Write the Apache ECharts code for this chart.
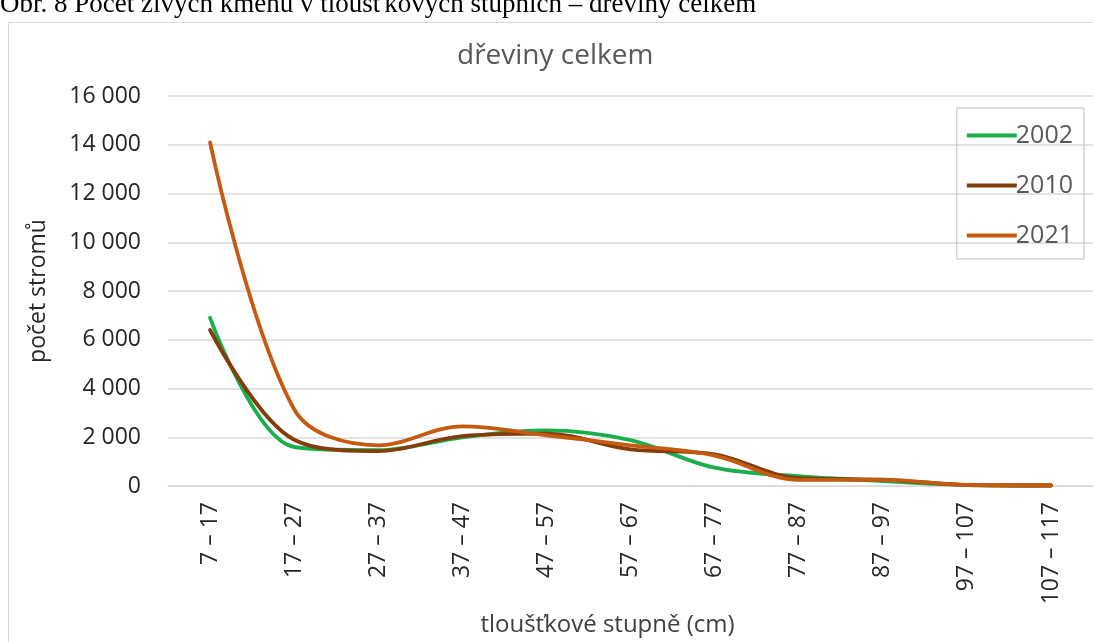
<!DOCTYPE html>
<html><head><meta charset="utf-8">
<script src="https://cdn.jsdelivr.net/npm/echarts@6/dist/echarts.min.js"></script>
<style>html,body{margin:0;padding:0;background:#fff}#c{width:1093px;height:642px}</style>
</head><body><div id="c"></div>
<script>
const categories = ['7 – 17','17 – 27','27 – 37','37 – 47','47 – 57','57 – 67','67 – 77','77 – 87','87 – 97','97 – 107','107 – 117'];
const s2002 = [6900, 1600, 1470, 2000, 2280, 1880, 750, 400, 200, 40, 20];
const s2010 = [6400, 1900, 1430, 2050, 2150, 1500, 1300, 320, 260, 40, 20];
const s2021 = [14100, 3150, 1670, 2450, 2080, 1670, 1250, 250, 250, 50, 30];
const seriesNames = ['2002','2010','2021'];
const colors = ['#19b04b','#843c0c','#c55a11'];
const FONT = '"Open Sans"';

const chart = echarts.init(document.getElementById('c'), null, {renderer:'canvas'});
function mk(name, data, color){
  return {name, type:'line', data, smooth:0.35, symbol:'none',
    lineStyle:{width:3.8, color, cap:'round'}, itemStyle:{color}};
}
chart.setOption({
  animation:false,
  graphic:[
    {type:'text', x:0, y:18, style:{text:'Obr. 8 Počet živých kmenů v tloušťkových stupních – dřeviny celkem', font:'27px "Liberation Serif"', fill:'#000', verticalAlign:'bottom'}},
    {type:'rect', shape:{x:8.5,y:22.5,width:1200,height:700}, style:{fill:'none', stroke:'#d9d9d9', lineWidth:1}, z:-1}
  ],
  title:{text:'dřeviny celkem', left:452, top:37,
    textStyle:{fontFamily:FONT, fontSize:28, fontWeight:'normal', color:'#595959'}},
  legend:{data:seriesNames, orient:'vertical', right:9, top:108, itemWidth:50, itemHeight:4, itemGap:17,
    icon:'rect', padding:[11,11,7,10], borderColor:'#bfbfbf', borderWidth:1,
    textStyle:{fontFamily:FONT, fontSize:25, color:'#595959', padding:[0,0,0,-6], lineHeight:33}},
  grid:{left:168, right:-2, top:96, bottom:154},
  xAxis:{type:'category', data:categories, boundaryGap:true,
    axisLine:{lineStyle:{color:'#d9d9d9'}}, axisTick:{show:false},
    axisLabel:{rotate:90, fontFamily:FONT, fontSize:23, color:'#262626', margin:16, interval:0},
    name:'tloušťkové stupně (cm)', nameLocation:'middle', nameGap:127,
    nameTextStyle:{fontFamily:FONT, fontSize:24, color:'#404040', padding:[0,46,0,0]}},
  yAxis:{type:'value', min:0, max:16000, interval:2000,
    axisLine:{show:false}, axisTick:{show:false},
    splitLine:{lineStyle:{color:'#d9d9d9', width:1.5}},
    axisLabel:{fontFamily:FONT, fontSize:23, color:'#262626', margin:27,
      formatter:v=>String(v).replace(/\B(?=(\d{3})+(?!\d))/g,' ')},
    name:'počet stromů', nameLocation:'middle', nameGap:118, nameRotate:90,
    nameTextStyle:{fontFamily:FONT, fontSize:23, color:'#262626'}},
  series:[mk('2002', s2002, colors[0]), mk('2010', s2010, colors[1]), mk('2021', s2021, colors[2])]
});
</script></body></html>
